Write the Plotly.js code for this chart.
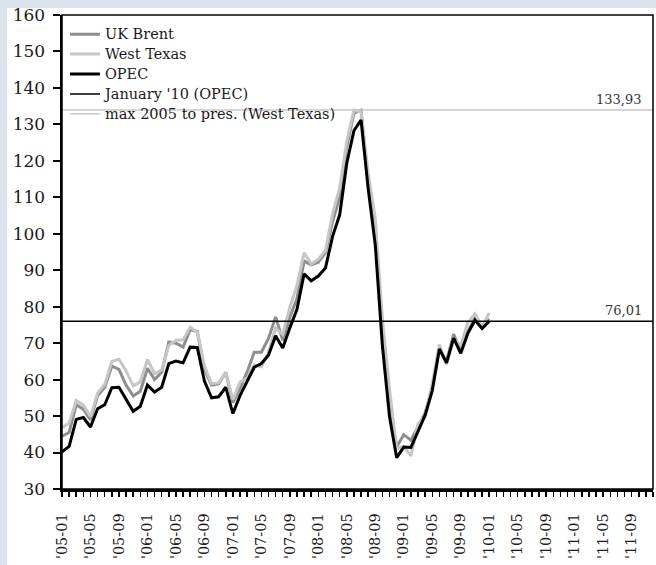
<!DOCTYPE html>
<html>
<head>
<meta charset="utf-8">
<script src="https://cdn.plot.ly/plotly-3.0.1.min.js"></script>
<style>
html,body{margin:0;padding:0;background:#d9e3ee;width:656px;height:565px;overflow:hidden;}
#panel{position:absolute;left:7px;top:8px;width:649px;height:557px;background:#fff;}
#chart{position:absolute;left:0;top:0;width:656px;height:565px;}
</style>
</head>
<body>
<div id="panel"></div>
<div id="chart"></div>
<script>
// Monthly categories Jan 2005 .. Dec 2011
const months = [
"'05-01","'05-02","'05-03","'05-04","'05-05","'05-06","'05-07","'05-08","'05-09","'05-10","'05-11","'05-12",
"'06-01","'06-02","'06-03","'06-04","'06-05","'06-06","'06-07","'06-08","'06-09","'06-10","'06-11","'06-12",
"'07-01","'07-02","'07-03","'07-04","'07-05","'07-06","'07-07","'07-08","'07-09","'07-10","'07-11","'07-12",
"'08-01","'08-02","'08-03","'08-04","'08-05","'08-06","'08-07","'08-08","'08-09","'08-10","'08-11","'08-12",
"'09-01","'09-02","'09-03","'09-04","'09-05","'09-06","'09-07","'09-08","'09-09","'09-10","'09-11","'09-12",
"'10-01","'10-02","'10-03","'10-04","'10-05","'10-06","'10-07","'10-08","'10-09","'10-10","'10-11","'10-12",
"'11-01","'11-02","'11-03","'11-04","'11-05","'11-06","'11-07","'11-08","'11-09","'11-10","'11-11","'11-12"
];
// Labelled ticks (every 4 months)
const tickLabels = ["'05-01","'05-05","'05-09","'06-01","'06-05","'06-09","'07-01","'07-05","'07-09",
"'08-01","'08-05","'08-09","'09-01","'09-05","'09-09","'10-01","'10-05","'10-09","'11-01","'11-05","'11-09"];
// Y axis ticks
const yTicks = [30,40,50,60,70,80,90,100,110,120,130,140,150,160];

// Series values (USD per barrel), Jan 2005 .. Jan 2010
const ukBrent = [44.5,45.5,53.1,51.9,49.0,55.6,57.9,63.7,62.8,58.5,55.5,56.8,
  63.1,60.0,62.0,70.3,70.0,68.9,73.7,73.2,62.8,58.5,58.8,62.0,
  53.7,57.6,62.1,67.5,67.5,71.3,77.2,70.8,77.1,82.3,92.5,91.5,
  92.2,94.8,103.3,110.2,123.9,133.1,133.9,113.9,99.1,72.7,53.2,41.6,
  44.9,43.4,47.0,50.9,57.9,68.6,64.9,72.5,67.7,73.2,77.0,74.7,
  76.7];
const westTexas = [46.8,48.0,54.3,53.0,49.8,56.3,58.7,65.0,65.6,62.4,58.3,59.4,
  65.5,61.6,62.7,69.4,70.8,70.9,74.4,73.0,63.8,58.9,59.1,62.0,
  54.5,59.3,60.4,64.0,63.5,67.5,74.1,72.4,79.9,85.8,94.8,91.7,
  93.0,95.4,105.5,112.6,125.4,133.93,133.4,116.7,104.1,76.6,57.3,41.1,
  41.7,39.1,47.9,49.7,59.0,69.6,64.1,71.1,69.4,75.7,78.0,74.5,
  78.3];
const opec = [40.2,41.7,49.1,49.6,47.0,52.0,53.1,57.8,57.9,54.6,51.3,52.7,
  58.5,56.6,57.9,64.4,65.1,64.6,68.9,68.8,59.6,55.0,55.3,57.9,
  50.7,55.6,59.3,63.4,64.4,66.7,72.0,68.7,74.2,79.3,89.0,87.1,
  88.4,90.6,99.3,105.2,119.4,128.3,131.2,112.4,96.9,69.2,49.8,38.6,
  41.5,41.4,45.8,50.2,57.0,68.4,64.6,71.4,67.2,72.7,76.3,74.0,
  76.01];

const janOpec = opec[opec.length - 1];
const maxWT = Math.max.apply(null, westTexas);
const fmt = v => v.toFixed(2).replace('.', ',');
const big = s => '<span style="font-size:14.5px">' + s + '</span>';

const xData = months.slice(0, opec.length);
const FONT = 'DejaVu Serif, Liberation Serif, serif';

const traces = [
  {x: xData, y: ukBrent, name: big('UK Brent'), type: 'scatter', mode: 'lines',
   line: {color: '#8e8e8e', width: 3}},
  {x: xData, y: westTexas, name: big('West Texas'), type: 'scatter', mode: 'lines',
   line: {color: '#c6c6c6', width: 3}},
  {x: xData, y: opec, name: big('OPEC'), type: 'scatter', mode: 'lines',
   line: {color: '#000000', width: 3}},
  {x: months, y: months.map(() => janOpec), name: big("January '10 (OPEC)"), type: 'scatter', mode: 'lines',
   line: {color: '#000000', width: 1.5}},
  {x: months, y: months.map(() => maxWT), name: big('max 2005 to pres. (West Texas)'), type: 'scatter', mode: 'lines',
   line: {color: '#c8c8c8', width: 1.5}}
];

const layout = {
  width: 656, height: 565,
  margin: {l: 62, r: 3, t: 15, b: 76},
  paper_bgcolor: 'rgba(0,0,0,0)', plot_bgcolor: '#ffffff',
  font: {family: FONT, color: '#1a1a1a', size: 15},
  showlegend: true,
  legend: {x: 0.005, y: 0.991, xanchor: 'left', yanchor: 'top', bgcolor: 'rgba(0,0,0,0)',
           font: {family: FONT, size: 13, color: '#1a1a1a'}, itemwidth: 30, tracegroupgap: 0},
  xaxis: {
    type: 'category', categoryorder: 'array', categoryarray: months,
    range: [0, months.length - 1],
    tickmode: 'array', tickvals: months,
    ticktext: months.map(m => tickLabels.indexOf(m) >= 0 ? m : ''),
    tickangle: -90, ticks: 'outside', ticklen: 5, tickwidth: 1.5, tickcolor: '#000',
    ticklabelstandoff: 11, ticklabeloverflow: 'allow',
    showline: true, linecolor: '#000', linewidth: 2.5,
    showgrid: false, zeroline: false,
    tickfont: {family: FONT, size: 14.5, color: '#1a1a1a'}
  },
  yaxis: {
    range: [30, 160], tickmode: 'array', tickvals: yTicks,
    ticks: 'outside', ticklen: 7, tickwidth: 2, tickcolor: '#000',
    ticklabelstandoff: 4, ticklabeloverflow: 'allow',
    showline: true, linecolor: '#000', linewidth: 2.5,
    showgrid: false, zeroline: false,
    tickfont: {family: FONT, size: 17, color: '#1a1a1a'}
  },
  shapes: [
    {type: 'rect', xref: 'paper', yref: 'paper', x0: 0, x1: 1, y0: 0, y1: 1,
     line: {color: '#000', width: 1.5}, layer: 'above'}
  ],
  annotations: [
    {x: months[months.length - 1], y: maxWT, xref: 'x', yref: 'y', text: fmt(maxWT),
     showarrow: false, xanchor: 'right', yanchor: 'bottom', xshift: -9, yshift: 1,
     font: {family: FONT, size: 13, color: '#333'}},
    {x: months[months.length - 1], y: janOpec, xref: 'x', yref: 'y', text: fmt(janOpec),
     showarrow: false, xanchor: 'right', yanchor: 'bottom', xshift: -9, yshift: 1,
     font: {family: FONT, size: 13, color: '#333'}}
  ]
};

Plotly.newPlot('chart', traces, layout, {displayModeBar: false, staticPlot: true});
</script>
</body>
</html>
